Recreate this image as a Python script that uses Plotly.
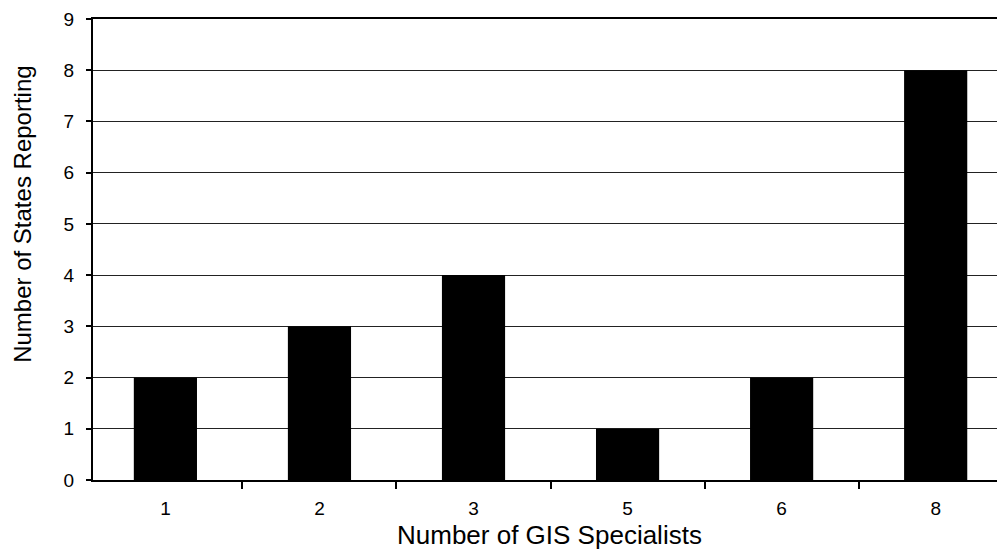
import plotly.graph_objects as go

categories = ["1", "2", "3", "5", "6", "8"]
states_reporting = [2, 3, 4, 1, 2, 8]
y_ticks = [0, 1, 2, 3, 4, 5, 6, 7, 8, 9]

fig = go.Figure()
fig.add_trace(go.Bar(
    x=categories,
    y=states_reporting,
    width=0.41,
    marker=dict(color="black", line=dict(width=0)),
))

font_family = "Liberation Sans, Arial, sans-serif"

# page body has an 8px default margin; figure sized/offset to compensate
fig.update_layout(
    width=997,
    height=542,
    margin=dict(l=85, r=0, t=11, b=70, autoexpand=False),
    paper_bgcolor="white",
    plot_bgcolor="white",
    showlegend=False,
    font=dict(family=font_family, size=19, color="black"),
    xaxis=dict(
        type="category",
        range=[-0.47, 5.45],
        tickson="boundaries",
        ticks="outside",
        ticklen=7,
        tickwidth=2,
        tickcolor="black",
        showline=True,
        linecolor="black",
        linewidth=2,
        mirror=True,
        showgrid=False,
        automargin=False,
        tickfont=dict(size=19),
        ticklabelstandoff=10,
    ),
    yaxis=dict(
        range=[0, 9],
        tickvals=y_ticks,
        ticks="outside",
        ticklen=5,
        tickwidth=2,
        tickcolor="black",
        showline=True,
        linecolor="black",
        linewidth=2,
        showgrid=True,
        gridcolor="#222222",
        gridwidth=1,
        zeroline=False,
        automargin=False,
        tickfont=dict(size=19),
        ticklabelstandoff=8,
    ),
    annotations=[
        dict(text="Number of GIS Specialists", xref="paper", yref="paper",
             x=0.5, y=-0.119, xanchor="center", yanchor="middle",
             showarrow=False, font=dict(size=26, family=font_family)),
        dict(text="Number of States Reporting", xref="paper", yref="paper",
             x=-0.078, y=0.577, xanchor="center", yanchor="middle", textangle=-90,
             showarrow=False, font=dict(size=24, family=font_family)),
    ],
)

fig.write_html("out.html")
